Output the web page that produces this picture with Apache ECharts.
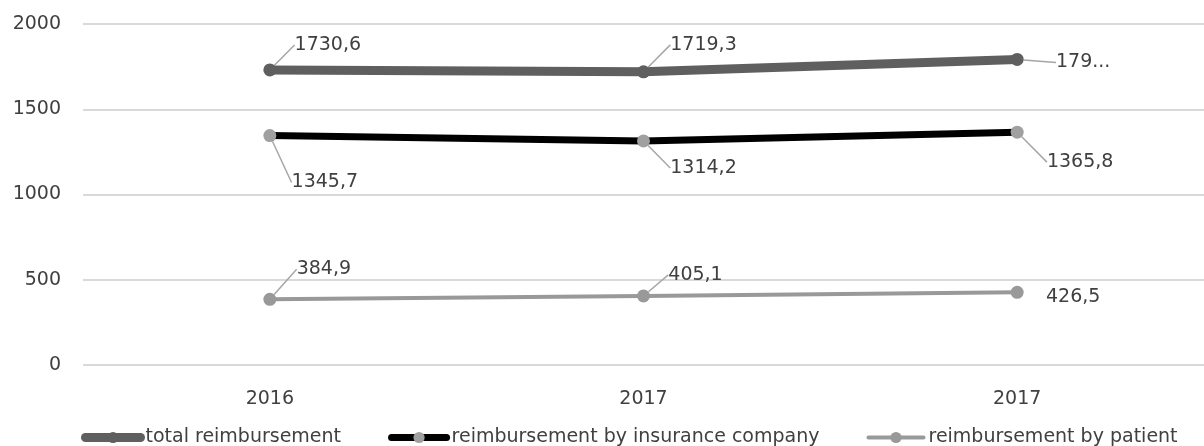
<!DOCTYPE html>
<html>
<head>
<meta charset="utf-8">
<script src="https://cdn.jsdelivr.net/npm/echarts@6/dist/echarts.min.js"></script>
<style>
  html, body { margin: 0; padding: 0; background: #ffffff; }
  #chart { width: 1204px; height: 446px; }
</style>
</head>
<body>
<div id="chart"></div>
<script>
// Category labels and series values
const years = ['2016', '2017', '2017'];
const totalReimbursement = [1730.6, 1719.3, 1792.3];
const insuranceReimbursement = [1345.7, 1314.2, 1365.8];
const patientReimbursement = [384.9, 405.1, 426.5];
const yAxisTicks = [0, 500, 1000, 1500, 2000];
const seriesNames = ['total reimbursement', 'reimbursement by insurance company', 'reimbursement by patient'];

const FONT = '"DejaVu Sans", sans-serif';
const TEXT_COLOR = '#404040';
const fmt = v => String(v).replace('.', ',');

// Label displacement from each point (callout placement)
const labelShift = {
  total:     [[58, -25], [60, -27], [66, 3]],
  insurance: [[55, 47], [60, 27], [63, 30]],
  patient:   [[54, -30], [52, -21], [56, 5]]
};

function makeSeries(name, values, shift, lineColor, lineWidth, markerColor, labelText) {
  return {
    name: name,
    type: 'line',
    data: values.map((v, i) => ({
      value: v,
      labelLine: { show: !(shift === labelShift.patient && i === 2) }
    })),
    symbol: 'circle',
    symbolSize: 13,
    itemStyle: { color: markerColor },
    lineStyle: { color: lineColor, width: lineWidth, cap: 'round' },
    z: 3,
    label: {
      show: true,
      position: 'inside',
      fontFamily: FONT,
      fontSize: 19,
      color: TEXT_COLOR,
      formatter: p => labelText ? labelText(p) : fmt(p.value)
    },
    labelLine: {
      show: true,
      lineStyle: { color: '#a6a6a6', width: 1.5 }
    },
    labelLayout: p => ({ dx: shift[p.dataIndex][0], dy: shift[p.dataIndex][1] })
  };
}

const chart = echarts.init(document.getElementById('chart'));
chart.setOption({
  animation: false,
  backgroundColor: '#ffffff',
  grid: { left: 83, top: 24, width: 1128, height: 341, containLabel: false },
  xAxis: {
    type: 'category',
    data: years,
    boundaryGap: true,
    axisLine: { show: false },
    axisTick: { show: false },
    axisLabel: { fontFamily: FONT, fontSize: 19, color: TEXT_COLOR, margin: 25 }
  },
  yAxis: {
    type: 'value',
    min: yAxisTicks[0],
    max: yAxisTicks[yAxisTicks.length - 1],
    interval: yAxisTicks[1] - yAxisTicks[0],
    axisLine: { show: false },
    axisTick: { show: false },
    axisLabel: { fontFamily: FONT, fontSize: 19, color: TEXT_COLOR, margin: 22, formatter: v => String(v) },
    splitLine: { lineStyle: { color: '#d9d9d9', width: 2 } }
  },
  legend: {
    bottom: -6,
    left: 76,
    itemWidth: 55,
    itemHeight: 14,
    itemGap: 47,
    lineStyle: { width: 'inherit' },
    textStyle: { fontFamily: FONT, fontSize: 19, color: TEXT_COLOR },
    data: seriesNames
  },
  series: [
    makeSeries(seriesNames[0], totalReimbursement, labelShift.total, '#5f5f5f', 9, '#5f5f5f',
      p => p.dataIndex === 2 ? '179...' : fmt(p.value)),
    makeSeries(seriesNames[1], insuranceReimbursement, labelShift.insurance, '#000000', 7, '#a0a0a0'),
    makeSeries(seriesNames[2], patientReimbursement, labelShift.patient, '#999999', 4, '#999999')
  ]
});
</script>
</body>
</html>
